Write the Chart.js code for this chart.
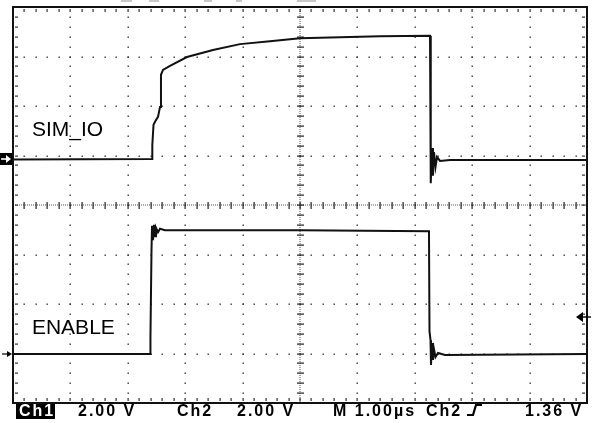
<!DOCTYPE html>
<html lang="en">
<head>
<meta charset="UTF-8">
<title>SIM_IO / ENABLE scope capture</title>
<script src="https://cdn.jsdelivr.net/npm/chart.js"></script>
<style>
    body { margin: 0; padding: 0; background: #ffffff; }
    #wrap { width: 592px; height: 423px; position: relative; }
</style>
</head>
<body>
<div id="wrap"><canvas id="scope"></canvas></div>
<script>
// time in µs (1 µs/div, centre = 0), level in divisions from the bottom of the screen
const ch1Time  = [-5, -2.578, -2.573, -2.552, -2.526, -2.474, -2.439, -2.422, -2.387, -2.265, -1.969, -1.516, -1.045, -0.523, 0, 0.697, 1.394, 2.265,
                  2.274, 2.282, 2.300, 2.317, 2.334, 2.361, 2.387, 2.439, 2.613, 5];
const ch1Level = [4.92, 4.93, 5.21, 5.62, 5.68, 5.78, 5.98, 6.63, 6.73, 6.81, 6.99, 7.13, 7.25, 7.31, 7.37, 7.39, 7.41, 7.42,
                  6.12, 4.44, 5.15, 4.59, 5.07, 4.77, 4.97, 4.89, 4.91, 4.91];
const ch2Time  = [-5, -2.613, -2.608, -2.603, -2.587, -2.578, -2.561, -2.544, -2.526, -2.509, -2.474, -2.439, -2.352, 0, 2.247,
                  2.256, 2.274, 2.282, 2.300, 2.317, 2.334, 2.361, 2.404, 2.526, 5];
const ch2Level = [0.99, 0.99, 1.33, 1.33, 3.09, 3.58, 3.29, 3.60, 3.37, 3.54, 3.45, 3.52, 3.49, 3.49, 3.47,
                  1.45, 1.27, 0.77, 1.21, 0.87, 1.09, 0.93, 1.01, 0.97, 0.99];

const xTicks = [-5, -4, -3, -2, -1, 0, 1, 2, 3, 4, 5];
const yTicks = [0, 1, 2, 3, 4, 5, 6, 7, 8];

const traceLabels = [
    { text: 'SIM_IO', t: -4.67, d: 5.39 },
    { text: 'ENABLE', t: -4.67, d: 1.39 }
];
const ch1Ground = 4.92;
const ch2Ground = 0.99;
const trigLevel = 1.74;

const readout = [
    { text: 'Ch1', x: 19, inverse: true },
    { text: '2.00 V', x: 78 },
    { text: 'Ch2', x: 177 },
    { text: '2.00 V', x: 237 },
    { text: 'M 1.00\u00b5s', x: 333 },
    { text: 'Ch2', x: 426 },
    { text: '1.36 V', x: 525 }
];

function toPoints(ts, vs) {
    return ts.map((t, i) => ({ x: t, y: vs[i] }));
}

// scope readout is spaced out a bit wider than the plain font
function fillSpaced(ctx, text, x, y, gap) {
    for (const ch of text) {
        ctx.fillText(ch, x, y);
        x += ctx.measureText(ch).width + gap;
    }
}

const graticule = {
    id: 'graticule',
    beforeDatasetsDraw(chart) {
        const ctx = chart.ctx;
        const xs = chart.scales.x, ys = chart.scales.y;
        const a = chart.chartArea;
        const px = v => xs.getPixelForValue(v);
        const py = v => ys.getPixelForValue(v);
        ctx.save();
        ctx.fillStyle = '#333';

        // major grid lines as dots at every minor division
        xTicks.slice(1, -1).forEach(t => {
            if (t === 0) return;
            for (let k = 1; k < 40; k++) ctx.fillRect(Math.round(px(t)) - 0.5, Math.round(py(k / 5)) - 0.5, 1.4, 1.4);
        });
        yTicks.slice(1, -1).forEach(d => {
            if (d === 4) return;
            for (let k = 1; k < 50; k++) ctx.fillRect(Math.round(px(-5 + k / 5)) - 0.5, Math.round(py(d)) - 0.5, 1.4, 1.4);
        });

        // centre lines: fine dots plus cross ticks
        const cx = Math.round(px(0)), cy = Math.round(py(4));
        ctx.fillStyle = '#555';
        for (let y = a.top + 2; y < a.bottom - 1; y += 2) ctx.fillRect(cx - 0.5, y, 1, 1);
        for (let x = a.left + 2; x < a.right - 1; x += 2) ctx.fillRect(x, cy - 0.5, 1, 1);
        ctx.fillStyle = '#222';
        for (let k = 1; k < 40; k++) ctx.fillRect(cx - 3, Math.round(py(k / 5)) - 0.5, 7, 1.2);
        for (let k = 1; k < 50; k++) ctx.fillRect(Math.round(px(-5 + k / 5)) - 0.5, cy - 3, 1.2, 7);

        // ticks along the inside of the frame
        ctx.fillStyle = '#333';
        for (let k = 1; k < 40; k++) {
            const y = Math.round(py(k / 5)) - 0.5;
            ctx.fillRect(a.left + 2, y, 3, 1.2);
            ctx.fillRect(a.right - 5, y, 3, 1.2);
        }
        for (let k = 1; k < 50; k++) {
            const x = Math.round(px(-5 + k / 5)) - 0.5;
            ctx.fillRect(x, a.top + 2, 1.2, 3);
            ctx.fillRect(x, a.bottom - 5, 1.2, 3);
        }

        // frame
        ctx.strokeStyle = '#111';
        ctx.lineWidth = 2;
        ctx.strokeRect(a.left, a.top, a.right - a.left, a.bottom - a.top);

        // clipped text remnants along the top edge
        ctx.fillStyle = '#c8c8c8';
        [[121, 11], [149, 10], [204, 8], [236, 6], [297, 19]].forEach(r => ctx.fillRect(r[0], 0, r[1], 2));
        ctx.restore();
    },
    afterDatasetsDraw(chart) {
        const ctx = chart.ctx;
        const xs = chart.scales.x, ys = chart.scales.y;
        const a = chart.chartArea;
        ctx.save();

        // trace names
        ctx.fillStyle = '#000';
        ctx.font = '21px "Liberation Sans", Arial, sans-serif';
        ctx.textBaseline = 'alphabetic';
        traceLabels.forEach(l => ctx.fillText(l.text, xs.getPixelForValue(l.t), ys.getPixelForValue(l.d)));

        // channel ground markers
        const g1 = Math.round(ys.getPixelForValue(ch1Ground));
        ctx.fillStyle = '#000';
        ctx.fillRect(0, g1 - 6, 12, 12);
        ctx.strokeStyle = '#fff';
        ctx.fillStyle = '#fff';
        ctx.lineWidth = 1.6;
        ctx.beginPath(); ctx.moveTo(1, g1); ctx.lineTo(7, g1); ctx.stroke();
        ctx.beginPath(); ctx.moveTo(11, g1); ctx.lineTo(6, g1 - 4); ctx.lineTo(6, g1 + 4); ctx.closePath(); ctx.fill();

        const g2 = Math.round(ys.getPixelForValue(ch2Ground));
        ctx.strokeStyle = '#000';
        ctx.fillStyle = '#000';
        ctx.lineWidth = 1.2;
        ctx.beginPath(); ctx.moveTo(2, g2); ctx.lineTo(8, g2); ctx.stroke();
        ctx.beginPath(); ctx.moveTo(12, g2); ctx.lineTo(7, g2 - 3); ctx.lineTo(7, g2 + 3); ctx.closePath(); ctx.fill();

        // trigger level marker on the right
        const tl = Math.round(ys.getPixelForValue(trigLevel));
        ctx.lineWidth = 1.4;
        ctx.beginPath(); ctx.moveTo(582, tl); ctx.lineTo(591, tl); ctx.stroke();
        ctx.beginPath(); ctx.moveTo(576, tl); ctx.lineTo(583, tl - 5); ctx.lineTo(583, tl + 5); ctx.closePath(); ctx.fill();

        // readout line
        ctx.font = 'bold 16px "Liberation Sans", Arial, sans-serif';
        ctx.textBaseline = 'alphabetic';
        const base = 416;
        readout.forEach(r => {
            if (r.inverse) {
                ctx.fillStyle = '#000';
                ctx.fillRect(r.x - 3, a.bottom + 1, 39, 15);
                ctx.fillStyle = '#fff';
            } else {
                ctx.fillStyle = '#000';
            }
            fillSpaced(ctx, r.text, r.x, base, 2);
        });
        // rising edge symbol
        ctx.strokeStyle = '#000';
        ctx.lineWidth = 2.2;
        ctx.beginPath();
        ctx.moveTo(467, 415); ctx.lineTo(473, 415); ctx.lineTo(476, 405); ctx.lineTo(482, 405);
        ctx.stroke();
        ctx.restore();
    }
};

new Chart(document.getElementById('scope').getContext('2d'), {
    type: 'scatter',
    data: {
        datasets: [
            { label: 'SIM_IO', data: toPoints(ch1Time, ch1Level), showLine: true, borderColor: '#111', borderWidth: 2, pointRadius: 0, tension: 0 },
            { label: 'ENABLE', data: toPoints(ch2Time, ch2Level), showLine: true, borderColor: '#111', borderWidth: 2, pointRadius: 0, tension: 0 }
        ]
    },
    options: {
        responsive: true,
        maintainAspectRatio: false,
        animation: false,
        layout: { padding: { left: 13, right: 5, top: 7, bottom: 20 } },
        plugins: { legend: { display: false }, tooltip: { enabled: false } },
        scales: {
            x: { type: 'linear', min: -5, max: 5, display: false },
            y: { type: 'linear', min: 0, max: 8, display: false }
        }
    },
    plugins: [graticule]
});
</script>
</body>
</html>
